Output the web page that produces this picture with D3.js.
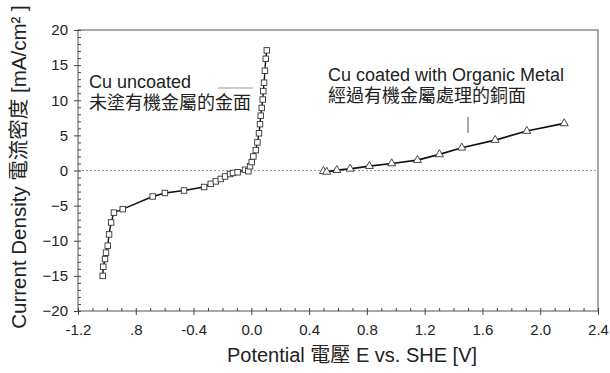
<!DOCTYPE html>
<html>
<head>
<meta charset="utf-8">
<script src="https://cdn.jsdelivr.net/npm/d3@7"></script>
<style>
  body { margin: 0; background: #fff; }
  svg text { font-family: "Liberation Sans", Arial, "Noto Sans CJK TC", sans-serif; fill: #222; }
</style>
</head>
<body>
<svg width="610" height="373"></svg>
<script>
// data: potential (V vs SHE), current density (mA/cm2)
const uncoatedV = [-1.029, -1.025, -1.013, -1.006, -0.994, -0.985, -0.971, -0.951, -0.890,
  -0.683, -0.598, -0.466, -0.327, -0.281, -0.246, -0.212, -0.182, -0.147, -0.127, -0.095,
  -0.044, -0.021, -0.009, 0.003, 0.014, 0.031, 0.042, 0.053, 0.060, 0.065, 0.072, 0.079,
  0.083, 0.088, 0.094, 0.100, 0.107];
const uncoatedI = [-15.0, -13.7, -12.6, -11.7, -10.7, -9.1, -7.4, -6.0, -5.5,
  -3.7, -3.2, -2.85, -2.35, -1.9, -1.55, -1.2, -0.85, -0.5, -0.35, -0.25,
  0.1, -0.1, 0.6, 1.2, 2.0, 2.9, 4.0, 5.3, 6.6, 7.8, 8.9, 10.1,
  11.3, 12.5, 14.2, 15.9, 17.1];
const coatedV = [0.499, 0.522, 0.592, 0.684, 0.817, 0.972, 1.150, 1.302, 1.457, 1.688, 1.907, 2.166];
const coatedI = [-0.1, -0.2, 0.05, 0.24, 0.62, 1.0, 1.48, 2.29, 3.24, 4.33, 5.62, 6.7];

const xTicks = [-1.2, -0.8, -0.4, 0.0, 0.4, 0.8, 1.2, 1.6, 2.0, 2.4];
const xTickLabels = ['-1.2', '.8', '-0.4', '0.0', '0.4', '0.8', '1.2', '1.6', '2.0', '2.4'];
const yTicks = [-20, -15, -10, -5, 0, 5, 10, 15, 20];

const plotLeft = 78, plotRight = 598, plotTop = 30, plotBottom = 311;

const svg = d3.select('svg');

const x = d3.scaleLinear().domain([-1.2, 2.4]).range([plotLeft, plotRight]);
const y = d3.scaleLinear().domain([-20, 20]).range([plotBottom, plotTop]);

// frame
svg.append('rect')
    .attr('x', plotLeft).attr('y', plotTop)
    .attr('width', plotRight - plotLeft).attr('height', plotBottom - plotTop)
    .attr('fill', 'none').attr('stroke', '#555').attr('stroke-width', 1);

// zero line
svg.append('line')
    .attr('x1', plotLeft).attr('x2', plotRight)
    .attr('y1', y(0)).attr('y2', y(0))
    .attr('stroke', '#999').attr('stroke-dasharray', '2,2');

function styleAxis(g) {
    g.select('.domain').remove();
    g.selectAll('line').attr('stroke', '#444');
    g.selectAll('text').style('font-size', '15px').attr('fill', '#222');
}

// x axis
svg.append('g')
    .attr('transform', `translate(0, ${plotBottom})`)
    .call(d3.axisBottom(x).tickValues(xTicks).tickSize(4).tickPadding(9)
        .tickFormat((d, i) => xTickLabels[i]))
    .call(styleAxis);
svg.append('g')
    .attr('transform', `translate(0, ${plotBottom})`)
    .call(d3.axisBottom(x).tickValues(d3.range(-12, 25, 1).map(d => d / 10))
        .tickSize(-3).tickFormat(''))
    .call(styleAxis);

// y axis
svg.append('g')
    .attr('transform', `translate(${plotLeft}, 0)`)
    .call(d3.axisLeft(y).tickValues(yTicks).tickSize(4).tickPadding(6))
    .call(styleAxis);
svg.append('g')
    .attr('transform', `translate(${plotLeft}, 0)`)
    .call(d3.axisLeft(y).tickValues(d3.range(-20, 21, 1)).tickSize(-3).tickFormat(''))
    .call(styleAxis);

// axis titles
svg.append('text')
    .attr('x', 352).attr('y', 362)
    .style('text-anchor', 'middle')
    .style('font-size', '20px')
    .text('Potential 電壓 E vs. SHE [V]');

svg.append('text')
    .attr('transform', 'rotate(-90)')
    .attr('x', -167).attr('y', 26)
    .style('text-anchor', 'middle')
    .style('font-size', '20.5px')
    .text('Current Density 電流密度 [mA/cm² ]');

// curves
const uncoated = uncoatedV.map((v, i) => ({ v, i: uncoatedI[i] }));
const coated = coatedV.map((v, i) => ({ v, i: coatedI[i] }));

const line = d3.line().x(d => x(d.v)).y(d => y(d.i));

svg.append('path').datum(uncoated)
    .attr('d', line).attr('fill', 'none')
    .attr('stroke', '#111').attr('stroke-width', 1.4);
svg.append('path').datum(coated)
    .attr('d', line).attr('fill', 'none')
    .attr('stroke', '#111').attr('stroke-width', 1.7);

svg.selectAll('.sq').data(uncoated).enter()
    .append('rect').classed('sq', true)
    .attr('x', d => x(d.v) - 2.75).attr('y', d => y(d.i) - 2.75)
    .attr('width', 5.5).attr('height', 5.5)
    .attr('fill', '#fff').attr('stroke', '#333').attr('stroke-width', 0.9);

const tri = d3.symbol().type(d3.symbolTriangle).size(28);
svg.selectAll('.tri').data(coated).enter()
    .append('path').classed('tri', true)
    .attr('transform', d => `translate(${x(d.v)}, ${y(d.i)})`)
    .attr('d', tri)
    .attr('fill', '#fff').attr('stroke', '#333').attr('stroke-width', 0.9);

// annotations
const labelU = svg.append('text').style('font-size', '18px');
labelU.append('tspan').attr('x', 89).attr('y', 88).text('Cu uncoated');
labelU.append('tspan').attr('x', 89).attr('y', 109).text('未塗有機金屬的金面');
svg.append('line')
    .attr('x1', 218).attr('x2', 253).attr('y1', 88).attr('y2', 88)
    .attr('stroke', '#999').attr('stroke-width', 1);

const labelC = svg.append('text').style('font-size', '18px');
labelC.append('tspan').attr('x', 328).attr('y', 81).text('Cu coated with Organic Metal');
labelC.append('tspan').attr('x', 328).attr('y', 102).text('經過有機金屬處理的銅面');
svg.append('line')
    .attr('x1', 468).attr('x2', 468).attr('y1', 117).attr('y2', 133)
    .attr('stroke', '#555').attr('stroke-width', 1);
</script>
</body>
</html>
